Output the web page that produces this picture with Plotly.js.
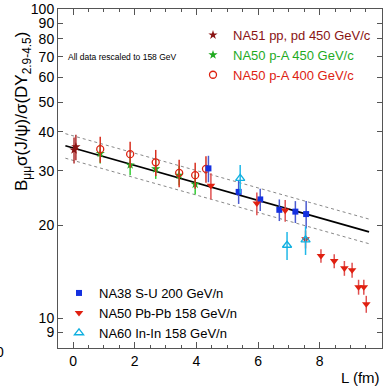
<!DOCTYPE html>
<html>
<head>
<meta charset="utf-8">
<script src="https://cdn.plot.ly/plotly-3.0.1.min.js"></script>
<style>html,body{margin:0;padding:0;background:#fff;}#chart{width:386px;height:387px;}</style>
</head>
<body>
<div id="chart"></div>
<script>
// ---- data ----
const na51_L = [0.03, 0.09];
const na51_v = [35.0, 35.8];
const na51_e = [3.4, 3.4];

const pA450_L = [0.88, 1.85, 2.68, 3.44, 3.96];
const pA450_v = [34.1, 31.3, 30.4, 29.0, 27.1];
const pA450_e = [2.5, 2.3, 2.2, 2.1, 2.0];

const pA400_L = [0.88, 1.85, 2.68, 3.44, 3.96, 4.31];
const pA400_v = [35.2, 33.9, 31.9, 29.5, 29.0, 30.4];
const pA400_e = [3.4, 3.3, 3.1, 3.0, 2.8, 3.0];

const na38_L = [4.39, 5.37, 6.07, 6.69, 7.21, 7.56];
const na38_v = [30.5, 25.6, 24.2, 22.4, 22.1, 21.7];
const na38_e = [3.0, 2.2, 2.0, 1.8, 1.8, 2.2];

const pbpb_L = [4.47, 5.96, 6.88, 7.54, 8.04, 8.47, 8.80, 9.05, 9.26, 9.43, 9.51];
const pbpb_v = [26.8, 23.5, 22.3, 18.0, 15.9, 15.3, 14.5, 14.3, 12.6, 12.6, 11.1];
const pbpb_e = [2.6, 2.0, 1.8, 1.2, 0.8, 0.8, 0.8, 0.8, 0.7, 0.7, 0.7];

const inin_L = [5.42, 6.94, 7.54];
const inin_v = [28.3, 17.2, 17.9];
const inin_e = [3.0, 1.8, 1.9];

const fit_L = [-0.25, 9.6];
const fit_v = [36.1, 19.0];
const fitUp_v = [39.5, 20.9];
const fitLo_v = [32.9, 17.4];

const yTicks = [9, 10, 20, 30, 40, 50, 60, 70, 80, 90, 100];
const xTicks = [0, 2, 4, 6, 8, 10];

const FONT = "Liberation Sans, Arial, Helvetica, sans-serif";

function pts(name, L, v, e, color, barColor, symbol, size, legend) {
  return {
    type: 'scatter', mode: 'markers', name: name, x: L, y: v,
    legend: legend,
    marker: {symbol: symbol, size: size, color: color,
             line: {color: color, width: symbol.indexOf('open') >= 0 ? 1.3 : 0}},
    error_y: {type: 'data', array: e, visible: true, color: barColor, thickness: 1.5, width: 0}
  };
}

const traces = [
  {type: 'scatter', mode: 'lines', x: fit_L, y: fitUp_v, showlegend: false, hoverinfo: 'skip',
   line: {color: '#888', width: 1, dash: 'dot'}},
  {type: 'scatter', mode: 'lines', x: fit_L, y: fitLo_v, showlegend: false, hoverinfo: 'skip',
   line: {color: '#888', width: 1, dash: 'dot'}},
  {type: 'scatter', mode: 'lines', x: fit_L, y: fit_v, showlegend: false, hoverinfo: 'skip',
   line: {color: '#000', width: 1.8}},
  pts('NA51 pp, pd 450 GeV/c', na51_L, na51_v, na51_e, '#8a1414', '#b03030', 'star', 7, 'legend'),
  pts('NA50 p-A 450 GeV/c', pA450_L, pA450_v, pA450_e, '#1faa1f', '#33cc33', 'star', 7, 'legend'),
  pts('NA50 p-A 400 GeV/c', pA400_L, pA400_v, pA400_e, '#dd2211', '#d83020', 'circle-open', 7, 'legend'),
  pts('NA38 S-U 200 GeV/n', na38_L, na38_v, na38_e, '#1430e0', '#4a5ad0', 'square', 6, 'legend2'),
  pts('NA50 Pb-Pb 158 GeV/n', pbpb_L, pbpb_v, pbpb_e, '#e02010', '#e05050', 'triangle-down', 7.5, 'legend2'),
  pts('NA60 In-In 158 GeV/n', inin_L, inin_v, inin_e, '#10b0e0', '#20b8e8', 'triangle-up-open', 8, 'legend2')
];

const layout = {
  width: 386, height: 387,
  margin: {l: 58, r: 4, t: 9, b: 39, pad: 0},
  paper_bgcolor: '#fff', plot_bgcolor: '#fff',
  font: {family: FONT, size: 14, color: '#000'},
  xaxis: {
    range: [-0.49, 10.02], tickvals: xTicks, ticktext: xTicks.map(String),
    ticks: 'inside', ticklen: 6, tickcolor: '#555', minor: {dtick: 0.5, ticks: 'inside', ticklen: 3, tickcolor: '#555'},
    showline: true, linecolor: '#555', linewidth: 1, mirror: 'ticks', showgrid: false, zeroline: false,
    tickfont: {size: 14, family: FONT}
  },
  yaxis: {
    type: 'log', range: [Math.log10(8.0), 2], tickvals: yTicks, ticktext: yTicks.map(String),
    ticks: 'inside', ticklen: 5, tickcolor: '#555',
    showline: true, linecolor: '#555', linewidth: 1, mirror: 'ticks', showgrid: false, zeroline: false,
    tickfont: {size: 14, family: FONT}
  },
  legend: {
    x: (193 - 58) / 324, y: 1 - (20 - 9) / 339, xanchor: 'left', yanchor: 'top',
    bgcolor: 'rgba(0,0,0,0)', borderwidth: 0, font: {size: 13, family: FONT}, tracegroupgap: 0
  },
  legend2: {
    x: (59 - 58) / 324, y: 1 - (278 - 9) / 339, xanchor: 'left', yanchor: 'top',
    bgcolor: 'rgba(0,0,0,0)', borderwidth: 0, font: {size: 13, family: FONT}, tracegroupgap: 0
  },
  annotations: [
    {xref: 'paper', yref: 'paper', x: (66 - 58) / 324, y: 1 - (57 - 9) / 339, xanchor: 'left', yanchor: 'middle',
     text: 'All data rescaled to 158 GeV', showarrow: false, font: {size: 8.5, family: FONT, color: '#000'}},
    {xref: 'paper', yref: 'paper', x: 1, y: -(377 - 348) / 339, xanchor: 'right', yanchor: 'middle',
     text: 'L (fm)', showarrow: false, font: {size: 15, family: FONT, color: '#000'}},
    {xref: 'paper', yref: 'paper', x: (23 - 58) / 324, y: 1 - (112 - 9) / 339, xanchor: 'center', yanchor: 'middle',
     textangle: -90, text: 'B<sub>μμ</sub>σ(J/ψ)/σ(DY<sub>2.9-4.5</sub>)', showarrow: false,
     font: {size: 17, family: FONT, color: '#000'}},
    {xref: 'paper', yref: 'paper', x: (0 - 58) / 324, y: -(352 - 348) / 339, xanchor: 'center', yanchor: 'middle',
     text: '0', showarrow: false, font: {size: 14, family: FONT, color: '#000'}}
  ],
  showlegend: true
};

Plotly.newPlot('chart', traces, layout, {displayModeBar: false, staticPlot: true}).then(function () {
  const cols = {'NA51 pp, pd 450 GeV/c': '#8a1414', 'NA50 p-A 450 GeV/c': '#1faa1f', 'NA50 p-A 400 GeV/c': '#dd2211',
    'NA38 S-U 200 GeV/n': '#1430e0', 'NA50 Pb-Pb 158 GeV/n': '#e02010', 'NA60 In-In 158 GeV/n': '#10b0e0'};
  document.querySelectorAll('.legendtext').forEach(function (t) {
    const c = cols[t.textContent];
    if (c) t.style.fill = c;
  });
});
</script>
</body>
</html>
